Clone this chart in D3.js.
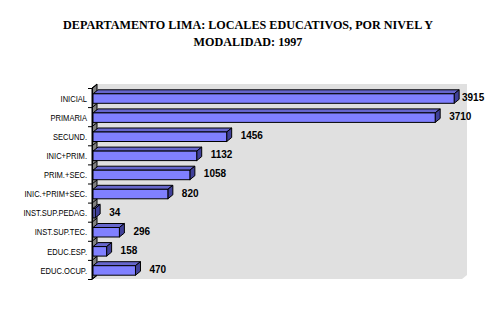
<!DOCTYPE html>
<html>
<head>
<meta charset="utf-8">
<script src="https://cdn.jsdelivr.net/npm/d3@7"></script>
<style>
  body { margin: 0; background: #fff; }
</style>
</head>
<body>
<svg id="chart"></svg>
<script>
const categories = ["INICIAL", "PRIMARIA", "SECUND.", "INIC+PRIM.", "PRIM.+SEC.",
  "INIC.+PRIM+SEC.", "INST.SUP.PEDAG.", "INST.SUP.TEC.", "EDUC.ESP.", "EDUC.OCUP."];
const values = [3915, 3710, 1456, 1132, 1058, 820, 34, 296, 158, 470];
const titleLines = ["DEPARTAMENTO LIMA: LOCALES EDUCATIVOS, POR NIVEL Y", "MODALIDAD: 1997"];

const width = 497, height = 314;
const dx = 5, dy = 4;   // 3d depth offset

const svg = d3.select('#chart')
  .attr('width', width)
  .attr('height', height);

const x = d3.scaleLinear().domain([0, 4000]).range([92, 462]);
const y = d3.scaleBand().domain(categories).range([88, 279]);

// back wall + floor
const x0 = x(0), x1 = x.range()[1], yTop = y.range()[0], yBot = y.range()[1];
svg.append('polygon')
  .attr('points', [[x0 + dx, yTop - dy], [x1 + dx, yTop - dy], [x1 + dx, yBot - dy], [x1, yBot], [x0, yBot]].join(' '))
  .attr('fill', '#e0e0e0');

// left wall
svg.append('polygon')
  .attr('points', [[x0, yTop], [x0 + dx, yTop - dy], [x0 + dx, yBot - dy], [x0, yBot]].join(' '))
  .attr('fill', '#808080')
  .attr('stroke', '#000')
  .attr('stroke-width', 1);

// ticks at band boundaries
const bounds = categories.map(c => y(c)).concat([yBot]);
svg.append('g').selectAll('path')
  .data(bounds)
  .join('path')
  .attr('d', b => `M${x0 - 4},${b + 0.5}H${x0}L${x0 + dx},${b - dy + 0.5}`)
  .attr('stroke', '#000')
  .attr('fill', 'none');

svg.append('line')
  .attr('x1', x0 + 0.5).attr('x2', x0 + 0.5)
  .attr('y1', yTop).attr('y2', yBot)
  .attr('stroke', '#000');

// bars
const barH = 9.5;
const bars = svg.append('g').selectAll('g')
  .data(categories.map((c, i) => ({ c, v: values[i] })))
  .join('g');

bars.each(function(d) {
  const g = d3.select(this);
  const yc = y(d.c) + y.bandwidth() / 2 + 1;
  const t = yc - barH / 2, b = yc + barH / 2;
  const xl = x0 + 1, xr = x(d.v);
  // top face
  g.append('polygon')
    .attr('points', [[xl, t], [xl + dx, t - dy], [xr + dx, t - dy], [xr, t]].join(' '))
    .attr('fill', '#6666cc').attr('stroke', '#000').attr('stroke-width', 1);
  // side face
  g.append('polygon')
    .attr('points', [[xr, t], [xr + dx, t - dy], [xr + dx, b - dy], [xr, b]].join(' '))
    .attr('fill', '#404099').attr('stroke', '#000').attr('stroke-width', 1);
  // front face
  g.append('rect')
    .attr('x', xl).attr('y', t)
    .attr('width', xr - xl).attr('height', b - t)
    .attr('fill', '#8080ff').attr('stroke', '#000').attr('stroke-width', 1);
  // value label
  g.append('text')
    .attr('x', Math.min(xr + dx + 9, 462))
    .attr('y', yc - 1)
    .attr('dy', '0.35em')
    .style('font-family', 'Arial, "Liberation Sans", sans-serif')
    .style('font-size', '10px')
    .style('font-weight', 'bold')
    .text(d.v);
});

// category labels (narrowed to match the original's condensed look)
svg.append('g').selectAll('text')
  .data(categories)
  .join('text')
  .attr('transform', c => `translate(87,${y(c) + y.bandwidth() / 2 + 1}) scale(0.84,1)`)
  .attr('dy', '0.35em')
  .attr('text-anchor', 'end')
  .style('font-family', 'Arial, "Liberation Sans", sans-serif')
  .style('font-size', '9px')
  .text(c => c);

// title
svg.append('g')
  .attr('transform', 'translate(248,0) scale(0.9,1)')
  .append('text')
  .attr('text-anchor', 'middle')
  .style('font-family', '"Liberation Serif", "Times New Roman", serif')
  .style('font-weight', 'bold')
  .style('font-size', '13.5px')
  .selectAll('tspan')
  .data(titleLines)
  .join('tspan')
  .attr('x', 0)
  .attr('y', (d, i) => 29 + i * 17)
  .text(d => d);
</script>
</body>
</html>
